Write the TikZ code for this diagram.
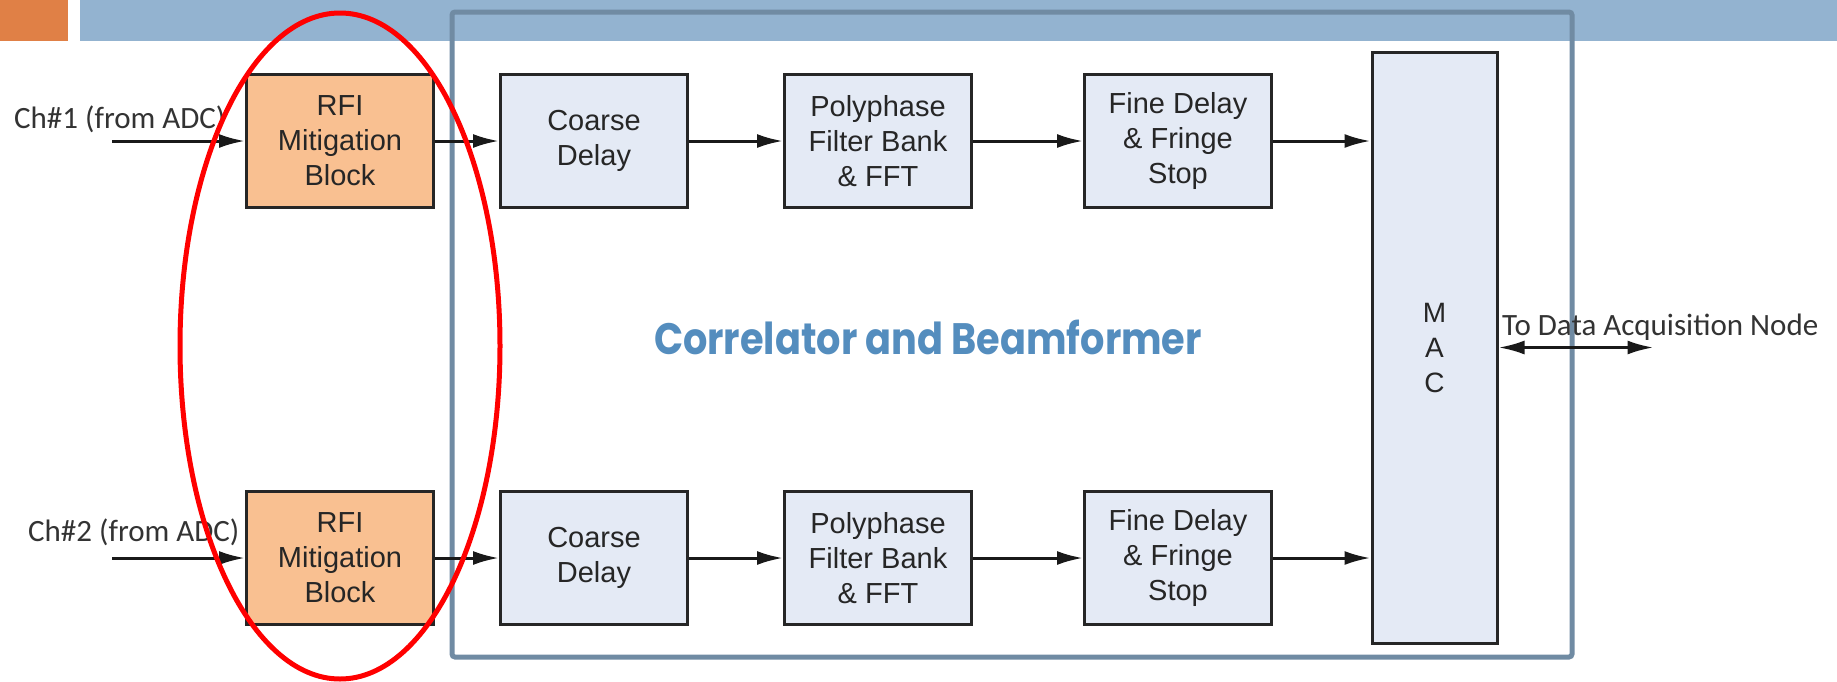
\documentclass[tikz,border=0pt]{standalone}
\usepackage{fontspec}
\setmainfont{Liberation Sans}
\newfontfamily\labelfont{Carlito}
\newfontfamily\titlefont{Poppins}
\usepackage{tikz}
\usetikzlibrary{arrows.meta,positioning}
\definecolor{barblue}{RGB}{147,179,208}
\definecolor{barorange}{RGB}{224,128,70}
\definecolor{framegray}{RGB}{112,139,163}
\definecolor{rfifill}{RGB}{249,192,145}
\definecolor{procfill}{RGB}{228,234,245}
\definecolor{titleblue}{RGB}{84,141,190}

\begin{document}
\begin{tikzpicture}[x=1pt, y=-1pt, >={Latex[length=26pt,width=14pt]}]
\tikzstyle{block} = [draw=black!85, fill=procfill, rectangle, line width=3pt,
    inner sep=0pt, minimum height=133pt, minimum width=187pt, align=center,
    text=black!85, font=\fontsize{29pt}{35pt}\selectfont]
\tikzstyle{rfi} = [block, fill=rfifill]
\tikzstyle{input} = [coordinate]
\tikzstyle{chlabel} = [anchor=base west, inner sep=0pt, text=black!80,
    font=\labelfont\fontsize{31pt}{37pt}\selectfont]
\tikzstyle{sig} = [->, line width=3pt, black!90]
    \useasboundingbox (0,0) rectangle (1837,681);
    % Slide header bar and the correlator frame go first
    \fill[barorange] (0,0) rectangle (68,41);
    \fill[barblue] (80,0) rectangle (1837,41);
    \draw[framegray, line width=5pt, rounded corners=3pt] (452,12) rectangle (1572,657);
    \node[font=\titlefont\bfseries\fontsize{44pt}{50pt}\selectfont, text=titleblue]
        (title) at (928,337) {\scalebox{0.87}[1]{Correlator and Beamformer}};

    % Channel 1 chain
    \node [rfi] (rfiA) at (340,141) {RFI\\Mitigation\\Block};
    \node [input, left=133pt of rfiA] (inA) {};
    \node [block, right=64pt of rfiA] (coarseA) {Coarse\\Delay};
    \node [block, right=94pt of coarseA] (polyA) {Polyphase\\Filter Bank\\\& FFT};
    \node [block, right=110pt of polyA] (fineA) {Fine Delay\\\& Fringe\\Stop};
    % Channel 2 chain, same blocks one row lower
    \node [rfi, below=281pt of rfiA] (rfiB) {RFI\\Mitigation\\Block};
    \node [input, left=133pt of rfiB] (inB) {};
    \node [block, right=64pt of rfiB] (coarseB) {Coarse\\Delay};
    \node [block, right=94pt of coarseB] (polyB) {Polyphase\\Filter Bank\\\& FFT};
    \node [block, right=110pt of polyB] (fineB) {Fine Delay\\\& Fringe\\Stop};
    \node [block, minimum width=125pt, minimum height=591pt,
        font=\fontsize{28pt}{35pt}\selectfont] (mac) at (1434.5,347.5) {M\\A\\C};
    \node [input, right=155pt of mac] (daq) {};

    \node [chlabel] (chA) at (14,128) {Ch\#1 (from ADC)};
    \node [chlabel] (chB) at (28,541) {Ch\#2 (from ADC)};
    \node [chlabel] (daqlbl) at (1502,335) {To Data Acquisition Node};

    % Connect everything
    \draw [sig] (inA) -- (rfiA);
    \draw [sig] (rfiA) -- (coarseA);
    \draw [sig] (coarseA) -- (polyA);
    \draw [sig] (polyA) -- (fineA);
    \draw [sig] (fineA) -- (fineA -| mac.west);
    \draw [sig] (inB) -- (rfiB);
    \draw [sig] (rfiB) -- (coarseB);
    \draw [sig] (coarseB) -- (polyB);
    \draw [sig] (polyB) -- (fineB);
    \draw [sig] (fineB) -- (fineB -| mac.west);
    \draw [sig, <->] (mac.east) -- (daq);

    % Red highlight round the RFI blocks
    \draw[red, line width=5pt] (340,346) ellipse [x radius=160pt, y radius=333pt];
\end{tikzpicture}
\end{document}
